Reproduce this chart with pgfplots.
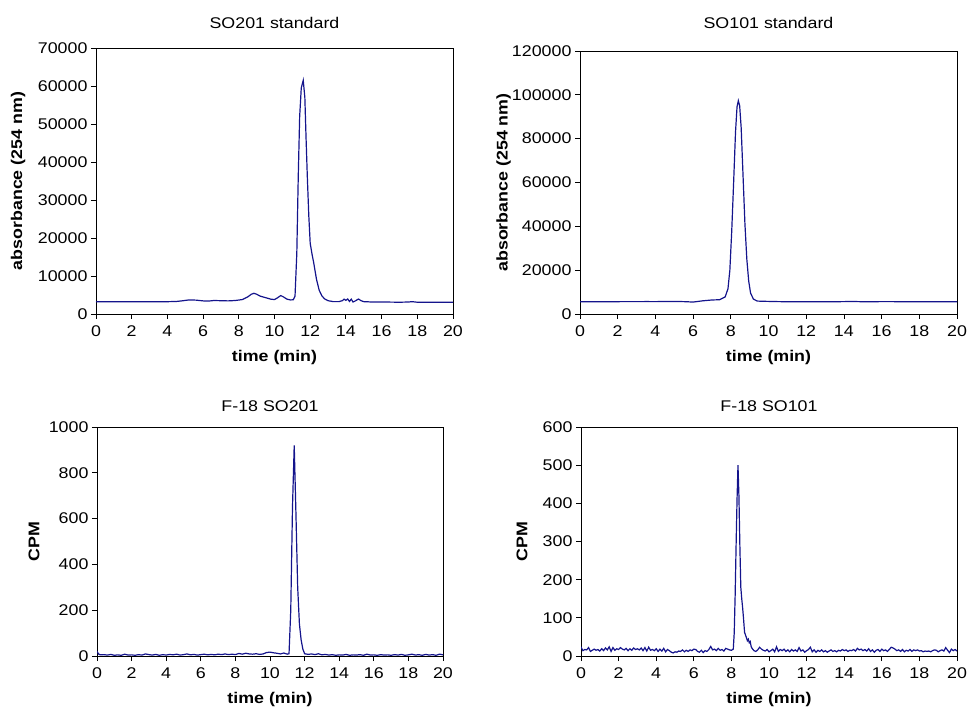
\documentclass[border=0pt]{standalone}
\usepackage{fontspec}
\setmainfont{Liberation Sans}[FakeStretch=1.15]
\usepackage{pgfplots}
\pgfplotsset{compat=1.18}
\definecolor{navyline}{HTML}{14148C}

\pgfplotsset{
  chrom/.style={
    scale only axis,
    anchor=south west,
    xmin=0, xmax=20,
    xtick={0,2,...,20},
    ymin=0,
    axis line style={black, line width=0.8pt},
    tick align=outside,
    tick pos=left,
    major tick length=5pt,
    every tick/.style={black, line width=0.8pt},
    scaled y ticks=false,
    /pgf/number format/fixed,
    /pgf/number format/precision=0,
    /pgf/number format/1000 sep={},
    /pgf/number format/assume math mode=true,
    tick label style={font=\fontsize{15.5}{17}\selectfont},
    xticklabel style={yshift=-3pt},
    label style={font=\fontsize{15.5}{17}\selectfont\bfseries},
    title style={font=\fontsize{15.5}{17}\selectfont},
    xlabel={time (min)},
    xlabel style={at={(rel axis cs:0.5,0)}, anchor=center, yshift=-43pt},
  },
  ylab/.style={ylabel style={at={(rel axis cs:0,0.5)}, anchor=center, yshift=#1}},
  tshift/.style={title style={yshift=#1}},
  chromline/.style={navyline, line width=1.2pt, no marks},
}

\begin{document}
\begin{tikzpicture}[x=1pt,y=1pt]
\path[use as bounding box] (0,0) rectangle (970,710);

% --- SO201 standard ---
\begin{axis}[chrom, at={(96pt,396pt)}, width=357pt, height=266pt,
  ymax=70000, ytick={0,10000,...,70000},
  title={SO201 standard}, tshift=10pt,
  ylabel={absorbance (254 nm)}, ylab=78pt]
\addplot[chromline] coordinates {
(0,3250) (0.5,3200) (1,3220) (1.5,3200) (2,3230) (2.5,3210) (3,3240) (3.5,3220)
(4,3240) (4.5,3300) (4.8,3450) (5.2,3700) (5.6,3650) (6,3450) (6.3,3400) (6.6,3550)
(7,3500) (7.4,3450) (7.8,3550) (8.2,3800) (8.5,4500) (8.7,5200) (8.85,5450) (9.0,5200)
(9.2,4700) (9.5,4300) (9.8,3900) (10.0,3800) (10.15,4200) (10.35,4850) (10.5,4500)
(10.7,3900) (10.9,3700) (11.05,3750) (11.15,4700) (11.25,16000) (11.33,36000)
(11.41,52000) (11.5,59500) (11.61,61500) (11.7,57000) (11.77,46000) (11.84,36000)
(11.92,26000) (12.0,18600) (12.1,15800) (12.2,13400) (12.35,9200) (12.5,6300)
(12.65,4800) (12.8,4000) (13.0,3500) (13.3,3250) (13.6,3250) (13.8,3500) (13.9,3900)
(14.0,3600) (14.1,3950) (14.2,3300) (14.3,3900) (14.4,3150) (14.55,3500) (14.7,3950)
(14.85,3500) (15.0,3250) (15.5,3150) (16,3150) (16.5,3130) (17,3100) (17.5,3150)
(17.7,3250) (18,3100) (18.5,3080) (19,3100) (19.5,3070) (20,3080)
};
\end{axis}

% --- SO101 standard ---
\begin{axis}[chrom, at={(580pt,396pt)}, width=377pt, height=263pt,
  ymax=120000, ytick={0,20000,...,120000},
  title={SO101 standard}, tshift=13pt,
  ylabel={absorbance (254 nm)}, ylab=76.5pt]
\addplot[chromline] coordinates {
(0,5600) (0.5,5600) (1,5620) (1.5,5600) (2,5630) (2.5,5650) (3,5640) (3.5,5660)
(4,5650) (4.5,5680) (5,5700) (5.5,5650) (6,5450) (6.5,6000) (7,6400) (7.4,6500)
(7.7,7800) (7.85,11500) (7.95,20000) (8.05,38000) (8.15,60000) (8.25,83000)
(8.33,94500) (8.4,97300) (8.47,95000) (8.55,85000) (8.65,63000) (8.75,41000)
(8.85,25000) (8.95,15000) (9.05,9500) (9.2,6800) (9.4,5900) (9.7,5800) (10,5750)
(10.5,5650) (11,5600) (11.5,5550) (12,5550) (12.5,5550) (13,5580) (13.5,5600)
(14,5650) (14.5,5700) (15,5600) (15.5,5600) (16,5650) (16.5,5650) (17,5600)
(17.5,5620) (18,5600) (18.5,5620) (19,5600) (19.5,5620) (20,5600)
};
\end{axis}

% --- F-18 SO201 ---
\begin{axis}[chrom, at={(97pt,54pt)}, width=346pt, height=229pt,
  ymax=1000, ytick={0,200,...,1000},
  title={F-18 SO201}, tshift=6pt,
  ylabel={CPM}, ylab=63pt]
\addplot[chromline] coordinates {
(0,20) (0.1,8) (0.2,5) (0.4,6) (0.6,4) (0.8,7) (1.0,3) (1.2,5) (1.4,3) (1.6,8)
(1.8,4) (2.0,5) (2.2,3) (2.4,6) (2.6,4) (2.8,9) (3.0,6) (3.2,4) (3.4,7) (3.6,3)
(3.8,6) (4.0,4) (4.2,7) (4.4,5) (4.6,8) (4.8,4) (5.0,6) (5.2,9) (5.4,5) (5.6,7)
(5.8,4) (6.0,6) (6.2,8) (6.4,5) (6.6,7) (6.8,5) (7.0,8) (7.2,6) (7.4,9) (7.6,6)
(7.8,8) (8.0,6) (8.2,11) (8.4,8) (8.6,12) (8.8,9) (9.0,8) (9.2,10) (9.4,7) (9.6,9)
(9.8,15) (10.0,17) (10.2,14) (10.4,12) (10.6,9) (10.8,13) (11.0,8) (11.1,10)
(11.2,200) (11.3,650) (11.4,920) (11.5,620) (11.6,300) (11.7,140) (11.8,70)
(11.9,30) (12.0,10) (12.2,7) (12.4,9) (12.6,6) (12.8,10) (13.0,5) (13.2,7) (13.4,4)
(13.6,6) (13.8,3) (14.0,5) (14.2,4) (14.4,7) (14.6,3) (14.8,5) (15.0,4) (15.2,6)
(15.4,3) (15.6,8) (15.8,4) (16.0,5) (16.2,3) (16.4,6) (16.6,4) (16.8,5) (17.0,3)
(17.2,6) (17.4,4) (17.6,7) (17.8,3) (18.0,5) (18.2,8) (18.4,4) (18.6,6) (18.8,3)
(19.0,7) (19.2,4) (19.4,6) (19.6,3) (19.8,8) (20.0,5)
};
\end{axis}

% --- F-18 SO101 ---
\begin{axis}[chrom, at={(581pt,54pt)}, width=376pt, height=229pt,
  ymax=600, ytick={0,100,...,600},
  title={F-18 SO101}, tshift=6pt,
  ylabel={CPM}, ylab=59pt]
\addplot[chromline] coordinates {
(0.0,24) (0.1,14) (0.2,17) (0.3,16) (0.4,22) (0.5,12) (0.6,15) (0.7,18) (0.8,15)
(0.9,17) (1.0,13) (1.1,19) (1.2,14) (1.3,21) (1.4,16) (1.5,24) (1.6,12) (1.7,22)
(1.8,15) (1.9,19) (2.0,17) (2.1,22) (2.2,18) (2.3,16) (2.4,20) (2.5,14) (2.6,19)
(2.7,15) (2.8,21) (2.9,17) (3.0,19) (3.1,16) (3.2,21) (3.3,14) (3.4,22) (3.5,13)
(3.6,23) (3.7,15) (3.8,17) (3.9,14) (4.0,19) (4.1,12) (4.2,18) (4.3,13) (4.4,20)
(4.5,11) (4.6,17) (4.7,14) (4.8,10) (4.9,8) (5.0,11) (5.1,10) (5.2,13) (5.3,12)
(5.4,16) (5.5,11) (5.6,15) (5.7,12) (5.8,16) (5.9,14) (6.0,18) (6.1,17) (6.2,12)
(6.3,10) (6.4,15) (6.5,9) (6.6,14) (6.7,12) (6.8,17) (6.9,25) (7.0,16) (7.1,18)
(7.2,14) (7.3,20) (7.4,15) (7.5,17) (7.6,13) (7.7,20) (7.8,18) (7.9,16) (8.0,15)
(8.1,18) (8.15,60) (8.2,160) (8.25,290) (8.3,410) (8.35,500) (8.4,420) (8.45,290)
(8.5,180) (8.55,150) (8.6,125) (8.65,95) (8.7,62) (8.75,55) (8.8,48) (8.85,40)
(8.9,44) (8.95,35) (9.0,38) (9.05,25) (9.1,20) (9.2,14) (9.3,12) (9.4,16) (9.5,23)
(9.6,18) (9.7,15) (9.8,13) (9.9,17) (10.0,11) (10.1,14) (10.2,18) (10.3,11)
(10.4,24) (10.5,12) (10.6,17) (10.7,14) (10.8,18) (10.9,12) (11.0,16) (11.1,11)
(11.2,17) (11.3,13) (11.4,16) (11.5,12) (11.6,22) (11.7,13) (11.8,16) (11.9,10)
(12.0,14) (12.1,17) (12.2,23) (12.3,11) (12.4,16) (12.5,10) (12.6,15) (12.7,12)
(12.8,16) (12.9,11) (13.0,14) (13.1,10) (13.2,13) (13.3,16) (13.4,12) (13.5,14)
(13.6,11) (13.7,15) (13.8,13) (13.9,17) (14.0,14) (14.1,16) (14.2,12) (14.3,15)
(14.4,14) (14.5,17) (14.6,13) (14.7,20) (14.8,16) (14.9,18) (15.0,14) (15.1,17)
(15.2,13) (15.3,19) (15.4,12) (15.5,16) (15.6,10) (15.7,15) (15.8,17) (15.9,12)
(16.0,18) (16.1,14) (16.2,16) (16.3,12) (16.4,17) (16.5,23) (16.6,21) (16.7,18)
(16.8,14) (16.9,16) (17.0,12) (17.1,17) (17.2,11) (17.3,15) (17.4,13) (17.5,17)
(17.6,12) (17.7,16) (17.8,14) (17.9,16) (18.0,13) (18.1,14) (18.2,11) (18.3,13)
(18.4,12) (18.5,13) (18.6,11) (18.7,14) (18.8,16) (18.9,15) (19.0,11) (19.1,14)
(19.2,16) (19.3,13) (19.4,22) (19.5,15) (19.6,9) (19.7,18) (19.8,14) (19.9,17)
(20.0,13)
};
\end{axis}
\end{tikzpicture}
\end{document}
